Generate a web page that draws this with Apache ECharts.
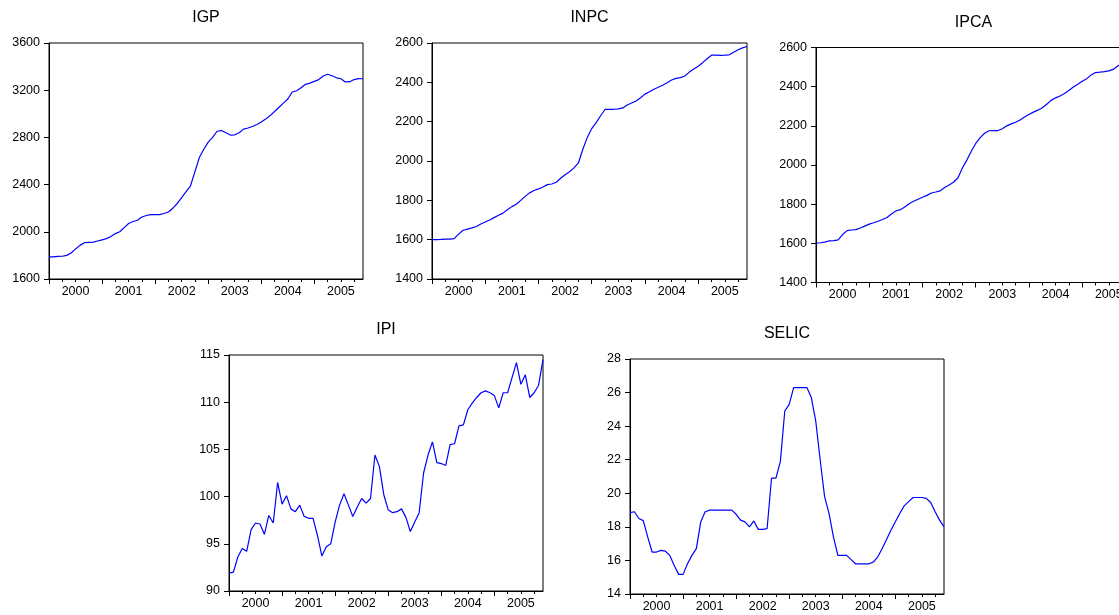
<!DOCTYPE html>
<html>
<head>
<meta charset="utf-8">
<title>IGP, INPC, IPCA, IPI, SELIC</title>
<script src="https://cdn.jsdelivr.net/npm/echarts@6/dist/echarts.min.js"></script>
<style>
  html, body { margin: 0; padding: 0; background: #fff; }
  #chart { width: 1119px; height: 615px; }
</style>
</head>
<body>
<div id="chart"></div>
<script>
// Monthly observations, 2000M01 .. 2005M12
const years = ['2000', '2001', '2002', '2003', '2004', '2005'];
const months = [];
years.forEach(y => { for (let m = 1; m <= 12; m++) months.push(y + 'M' + String(m).padStart(2, '0')); });

const igp = [
  1787, 1787, 1792, 1793, 1800, 1820, 1855, 1885, 1908, 1910, 1912, 1922,
  1932, 1942, 1960, 1985, 2000, 2035, 2070, 2087, 2098, 2125, 2138, 2145,
  2145, 2145, 2155, 2168, 2200, 2240, 2290, 2340, 2390, 2510, 2630, 2700,
  2760, 2800, 2852, 2858, 2840, 2820, 2822, 2840, 2870, 2880, 2892, 2910,
  2930, 2955, 2985, 3020, 3055, 3090, 3125, 3185, 3195, 3220, 3250, 3260,
  3275, 3290, 3320, 3335, 3322, 3305, 3297, 3270, 3272, 3290, 3298, 3297
];
const inpc = [
  1600, 1600, 1601, 1603, 1603, 1605, 1628, 1648, 1654, 1660, 1667, 1680,
  1690, 1700, 1712, 1724, 1735, 1752, 1768, 1780, 1800, 1820, 1838, 1850,
  1858, 1868, 1880, 1883, 1892, 1912, 1930, 1945, 1965, 1990, 2060, 2120,
  2165, 2195, 2230, 2262, 2263, 2263, 2265, 2270, 2285, 2295, 2305, 2322,
  2340, 2352, 2365, 2375, 2385, 2398, 2412, 2420, 2424, 2432, 2452, 2468,
  2482, 2500, 2520, 2538, 2538, 2537, 2538, 2540, 2553, 2566, 2575, 2582
];
const ipca = [
  1601, 1603, 1606, 1613, 1614, 1618, 1645, 1665, 1668, 1670, 1678, 1688,
  1698, 1705, 1713, 1722, 1732, 1750, 1765, 1772, 1785, 1802, 1815, 1825,
  1835, 1845, 1857, 1862, 1868, 1885, 1898, 1912, 1935, 1985, 2025, 2070,
  2110, 2140, 2162, 2175, 2176, 2176, 2185, 2200, 2210, 2218, 2230, 2245,
  2258, 2270, 2280, 2292, 2310, 2330, 2343, 2352, 2365, 2380, 2398, 2412,
  2428, 2440, 2460, 2472, 2474, 2477, 2481, 2488, 2505, 2520, 2532, 2540
];
const ipi = [
  91.9, 92.0, 93.6, 94.5, 94.2, 96.5, 97.2, 97.1, 96.0, 98.0, 97.2, 101.5,
  99.2, 100.1, 98.7, 98.4, 99.1, 97.9, 97.7, 97.7, 95.9, 93.7, 94.7, 95.0,
  97.3, 99.1, 100.3, 99.1, 97.9, 98.9, 99.8, 99.3, 99.8, 104.4, 103.2, 100.2,
  98.6, 98.3, 98.4, 98.7, 97.8, 96.3, 97.3, 98.3, 102.5, 104.4, 105.8, 103.6,
  103.5, 103.3, 105.5, 105.6, 107.5, 107.6, 109.2, 109.9, 110.5, 111.0, 111.2, 111.0,
  110.7, 109.4, 111.0, 111.0, 112.6, 114.2, 111.9, 112.9, 110.5, 111.0, 111.8, 114.5
];
const selic = [
  18.85, 18.9, 18.5, 18.37, 17.4, 16.5, 16.5, 16.6, 16.55, 16.3, 15.7, 15.17,
  15.17, 15.8, 16.3, 16.7, 18.3, 18.9, 19.0, 19.0, 19.0, 19.0, 19.0, 19.0,
  18.75, 18.4, 18.3, 18.0, 18.35, 17.85, 17.85, 17.9, 20.9, 20.9, 21.9, 24.9,
  25.3, 26.3, 26.3, 26.3, 26.3, 25.7, 24.3, 22.0, 19.8, 18.8, 17.4, 16.3,
  16.3, 16.3, 16.05, 15.8, 15.8, 15.8, 15.8, 15.9, 16.2, 16.7, 17.25, 17.8,
  18.3, 18.8, 19.25, 19.5, 19.75, 19.75, 19.75, 19.7, 19.45, 18.9, 18.4, 18.0
];

// Panel layout: title, data, y-range and plot box (pixels)
const panels = [
  { name: 'IGP',   data: igp,   min: 1600, max: 3600, step: 400, box: { left: 49,  top: 43,  width: 314, height: 236 } },
  { name: 'INPC',  data: inpc,  min: 1400, max: 2600, step: 200, box: { left: 432, top: 43,  width: 315, height: 236 } },
  { name: 'IPCA',  data: ipca,  min: 1400, max: 2600, step: 200, box: { left: 816, top: 47.5, width: 315, height: 235 } },
  { name: 'IPI',   data: ipi,   min: 90,   max: 115,  step: 5,   box: { left: 229, top: 355, width: 314, height: 236 } },
  { name: 'SELIC', data: selic, min: 14,   max: 28,   step: 2,   box: { left: 630, top: 359, width: 314, height: 235 } }
];

const FONT = '"Liberation Sans", Arial, Helvetica, sans-serif';
const grid = [], xAxis = [], yAxis = [], series = [], graphic = [];

panels.forEach((p, i) => {
  grid.push(Object.assign({
    show: true, borderColor: '#000', borderWidth: 1, backgroundColor: '#fff',
    containLabel: false, outerBoundsMode: 'none'
  }, p.box));

  // quarterly ticks + year labels centred in each year
  xAxis.push({
    type: 'category', gridIndex: i, data: months, boundaryGap: false, position: 'bottom',
    axisLine: { show: true, lineStyle: { color: '#000', width: 1 } },
    axisTick: { show: true, inside: false, length: 3, interval: (idx) => idx % 3 === 0, lineStyle: { color: '#000' } },
    axisLabel: {
      show: true, interval: (idx) => idx % 12 === 6, formatter: (v) => v.slice(0, 4),
      color: '#000', fontFamily: FONT, fontSize: 12.5, margin: 6
    },
    splitLine: { show: false }
  });
  // longer ticks at the start of each year
  xAxis.push({
    type: 'category', gridIndex: i, data: months, boundaryGap: false, position: 'bottom',
    axisLine: { show: false },
    axisTick: { show: true, inside: false, length: 5, interval: (idx) => idx % 12 === 0, lineStyle: { color: '#000' } },
    axisLabel: { show: false },
    splitLine: { show: false }
  });

  yAxis.push({
    type: 'value', gridIndex: i, min: p.min, max: p.max, interval: p.step,
    axisLine: { show: true, lineStyle: { color: '#000', width: 1 } },
    axisTick: { show: true, inside: false, length: 5, lineStyle: { color: '#000' } },
    axisLabel: { color: '#000', fontFamily: FONT, fontSize: 12.5, margin: 9, formatter: (v) => String(v) },
    splitLine: { show: false }
  });

  series.push({
    type: 'line', name: p.name, xAxisIndex: i * 2, yAxisIndex: i, data: p.data,
    showSymbol: false, symbol: 'none', smooth: false,
    lineStyle: { color: '#0000ff', width: 1.2 }
  });

  graphic.push({
    type: 'text',
    x: p.box.left + p.box.width / 2,
    y: p.box.top - 25,
    style: { text: p.name, fill: '#000', font: '16px ' + FONT, textAlign: 'center', textVerticalAlign: 'middle' }
  });
});

const chart = echarts.init(document.getElementById('chart'), null, { renderer: 'canvas' });
chart.setOption({
  animation: false,
  backgroundColor: '#fff',
  grid, xAxis, yAxis, series, graphic
});
</script>
</body>
</html>
